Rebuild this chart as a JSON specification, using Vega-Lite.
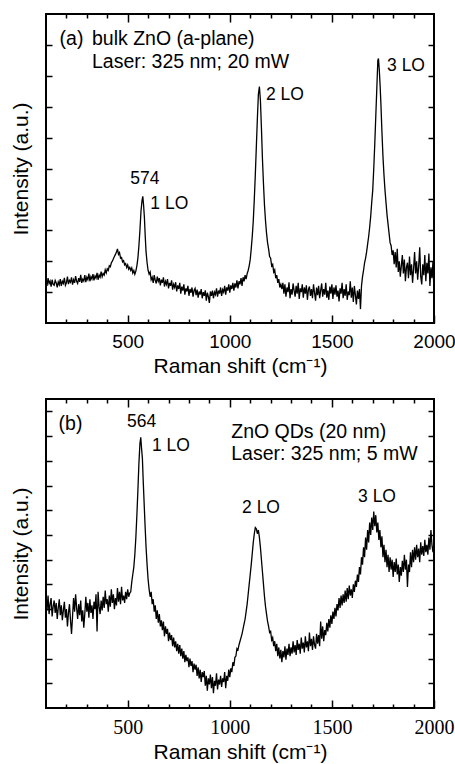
{
  "$schema": "https://vega.github.io/schema/vega-lite/v6.json",
  "padding": {"left": 9, "top": 12, "right": 2, "bottom": 4},
  "spacing": 20,
  "config": {
    "view": {"stroke": "black", "strokeWidth": 2},
    "axis": {"domain": false, "grid": false, "ticks": true, "tickColor": "black", "tickWidth": 1.5,
      "labelFont": "Liberation Sans", "labelFontSize": 19, "labelColor": "black",
      "titleFont": "Liberation Sans", "titleFontSize": 21, "titleFontWeight": "normal", "titleColor": "black"},
    "text": {"font": "Liberation Sans", "color": "black"}
  },
  "datasets": {
    "specA": [
      {"x":100,"y":1.32},{"x":105,"y":1.20},{"x":110,"y":1.45},{"x":115,"y":1.28},{"x":120,"y":1.36},{"x":125,"y":1.18},{"x":130,"y":1.40},{"x":135,"y":1.25},{"x":140,"y":1.22},{"x":145,"y":1.38},
      {"x":150,"y":1.30},{"x":155,"y":1.15},{"x":160,"y":1.33},{"x":165,"y":1.24},{"x":170,"y":1.42},{"x":175,"y":1.20},{"x":180,"y":1.35},{"x":185,"y":1.28},{"x":190,"y":1.46},{"x":195,"y":1.22},
      {"x":200,"y":1.30},{"x":205,"y":1.50},{"x":210,"y":1.26},{"x":215,"y":1.38},{"x":220,"y":1.32},{"x":225,"y":1.48},{"x":230,"y":1.24},{"x":235,"y":1.40},{"x":240,"y":1.30},{"x":245,"y":1.52},
      {"x":250,"y":1.35},{"x":255,"y":1.28},{"x":260,"y":1.45},{"x":265,"y":1.33},{"x":270,"y":1.56},{"x":275,"y":1.30},{"x":280,"y":1.42},{"x":285,"y":1.36},{"x":290,"y":1.55},{"x":295,"y":1.32},
      {"x":300,"y":1.48},{"x":305,"y":1.40},{"x":310,"y":1.60},{"x":315,"y":1.35},{"x":320,"y":1.50},{"x":325,"y":1.42},{"x":330,"y":1.58},{"x":335,"y":1.38},{"x":340,"y":1.52},{"x":345,"y":1.45},
      {"x":350,"y":1.62},{"x":355,"y":1.40},{"x":360,"y":1.55},{"x":365,"y":1.48},{"x":370,"y":1.66},{"x":375,"y":1.50},{"x":380,"y":1.60},{"x":385,"y":1.55},{"x":390,"y":1.72},{"x":395,"y":1.62},
      {"x":400,"y":1.75},{"x":405,"y":1.70},{"x":410,"y":1.85},{"x":415,"y":1.82},{"x":420,"y":1.95},{"x":425,"y":2.00},{"x":430,"y":2.08},{"x":435,"y":2.15},{"x":440,"y":2.22},{"x":445,"y":2.30},
      {"x":450,"y":2.40},{"x":455,"y":2.22},{"x":460,"y":2.28},{"x":465,"y":2.10},{"x":470,"y":2.12},{"x":475,"y":1.98},{"x":480,"y":2.02},{"x":485,"y":1.88},{"x":490,"y":1.92},{"x":495,"y":1.80},
      {"x":500,"y":1.88},{"x":505,"y":1.74},{"x":510,"y":1.80},{"x":515,"y":1.70},{"x":520,"y":1.78},{"x":525,"y":1.62},{"x":530,"y":1.70},{"x":535,"y":1.58},{"x":540,"y":1.68},{"x":545,"y":1.85},
      {"x":550,"y":2.10},{"x":555,"y":2.50},{"x":560,"y":3.00},{"x":565,"y":3.60},{"x":570,"y":3.95},{"x":574,"y":4.10},{"x":578,"y":3.80},{"x":582,"y":3.40},{"x":586,"y":2.80},{"x":590,"y":2.30},
      {"x":595,"y":1.95},{"x":600,"y":1.70},{"x":605,"y":1.58},{"x":610,"y":1.65},{"x":615,"y":1.40},
      {"x":620,"y":1.48},{"x":625,"y":1.30},{"x":630,"y":1.55},{"x":635,"y":1.38},{"x":640,"y":1.28},{"x":645,"y":1.50},{"x":650,"y":1.35},{"x":655,"y":1.45},{"x":660,"y":1.22},{"x":665,"y":1.40},
      {"x":670,"y":1.30},{"x":675,"y":1.48},{"x":680,"y":1.18},{"x":685,"y":1.35},{"x":690,"y":1.25},{"x":695,"y":1.42},{"x":700,"y":1.12},{"x":705,"y":1.30},{"x":710,"y":1.20},{"x":715,"y":1.38},
      {"x":720,"y":1.08},{"x":725,"y":1.25},{"x":730,"y":1.15},{"x":735,"y":1.32},{"x":740,"y":1.02},{"x":745,"y":1.22},{"x":750,"y":1.10},{"x":755,"y":1.30},{"x":760,"y":0.95},{"x":765,"y":1.18},
      {"x":770,"y":1.05},{"x":775,"y":1.25},{"x":780,"y":0.92},{"x":785,"y":1.12},{"x":790,"y":1.02},{"x":795,"y":1.20},{"x":800,"y":0.88},{"x":805,"y":1.10},{"x":810,"y":0.98},{"x":815,"y":1.15},
      {"x":820,"y":0.85},{"x":825,"y":1.05},{"x":830,"y":1.12},{"x":835,"y":0.90},{"x":840,"y":1.08},{"x":845,"y":0.82},{"x":850,"y":1.02},{"x":855,"y":0.92},{"x":860,"y":1.10},{"x":865,"y":0.80},
      {"x":870,"y":1.00},{"x":875,"y":0.88},{"x":880,"y":1.06},{"x":885,"y":0.72},{"x":890,"y":0.98},{"x":895,"y":0.85},{"x":900,"y":0.65},{"x":905,"y":1.02},{"x":910,"y":0.88},{"x":915,"y":1.05},
      {"x":920,"y":0.80},{"x":925,"y":1.00},{"x":930,"y":0.92},{"x":935,"y":1.12},{"x":940,"y":0.85},{"x":945,"y":1.05},{"x":950,"y":0.95},{"x":955,"y":1.15},{"x":960,"y":0.88},{"x":965,"y":1.08},
      {"x":970,"y":1.00},{"x":975,"y":1.20},{"x":980,"y":0.92},{"x":985,"y":1.15},{"x":990,"y":1.05},{"x":995,"y":1.25},{"x":1000,"y":0.98},{"x":1005,"y":1.22},{"x":1010,"y":1.10},{"x":1015,"y":1.30},
      {"x":1020,"y":1.05},{"x":1025,"y":1.28},{"x":1030,"y":1.15},{"x":1035,"y":1.38},{"x":1040,"y":1.12},{"x":1045,"y":1.35},{"x":1050,"y":1.25},{"x":1055,"y":1.45},{"x":1060,"y":1.20},{"x":1065,"y":1.48},
      {"x":1070,"y":1.35},{"x":1075,"y":1.55},{"x":1080,"y":1.42},{"x":1085,"y":1.60},{"x":1090,"y":1.70},{"x":1095,"y":1.85},{"x":1100,"y":2.05},{"x":1105,"y":2.40},{"x":1110,"y":2.80},{"x":1115,"y":3.30},
      {"x":1120,"y":4.00},{"x":1125,"y":4.80},{"x":1130,"y":5.70},{"x":1135,"y":6.60},{"x":1140,"y":7.40},{"x":1145,"y":7.65},{"x":1150,"y":7.20},{"x":1155,"y":6.30},{"x":1160,"y":5.30},{"x":1165,"y":4.50},
      {"x":1170,"y":3.80},{"x":1175,"y":3.30},{"x":1180,"y":2.90},{"x":1185,"y":2.60},{"x":1190,"y":2.40},{"x":1195,"y":2.15},{"x":1200,"y":2.10},{"x":1205,"y":1.85},{"x":1210,"y":1.90},{"x":1215,"y":1.65},
      {"x":1220,"y":1.72},{"x":1225,"y":1.45},{"x":1230,"y":1.55},{"x":1235,"y":1.30},{"x":1240,"y":1.42},{"x":1245,"y":1.15},{"x":1250,"y":1.25},{"x":1255,"y":1.10},{"x":1260,"y":1.30},{"x":1265,"y":0.95},
      {"x":1270,"y":1.25},{"x":1275,"y":0.85},{"x":1280,"y":1.15},{"x":1285,"y":1.00},{"x":1290,"y":1.32},{"x":1295,"y":0.80},{"x":1300,"y":1.10},{"x":1305,"y":0.92},{"x":1310,"y":1.28},{"x":1315,"y":1.05},
      {"x":1320,"y":0.85},{"x":1325,"y":1.20},{"x":1330,"y":0.95},{"x":1335,"y":1.30},{"x":1340,"y":0.78},{"x":1345,"y":1.12},{"x":1350,"y":1.00},{"x":1355,"y":1.25},{"x":1360,"y":0.82},{"x":1365,"y":1.15},
      {"x":1370,"y":0.95},{"x":1375,"y":1.22},{"x":1380,"y":0.75},{"x":1385,"y":1.08},{"x":1390,"y":1.18},{"x":1395,"y":0.88},{"x":1400,"y":1.10},{"x":1405,"y":0.80},{"x":1410,"y":1.25},{"x":1415,"y":0.98},
      {"x":1420,"y":0.72},{"x":1425,"y":1.15},{"x":1430,"y":0.90},{"x":1435,"y":1.20},{"x":1440,"y":0.80},{"x":1445,"y":1.05},{"x":1450,"y":1.28},{"x":1455,"y":0.85},{"x":1460,"y":1.10},{"x":1465,"y":0.92},
      {"x":1470,"y":1.30},{"x":1475,"y":0.82},{"x":1480,"y":1.05},{"x":1485,"y":0.75},{"x":1490,"y":1.18},{"x":1495,"y":0.95},{"x":1500,"y":1.25},{"x":1505,"y":0.78},{"x":1510,"y":1.15},{"x":1515,"y":0.92},
      {"x":1520,"y":1.22},{"x":1525,"y":0.85},{"x":1530,"y":1.05},{"x":1535,"y":0.70},{"x":1540,"y":1.12},{"x":1545,"y":0.95},{"x":1550,"y":1.30},{"x":1555,"y":0.80},{"x":1560,"y":1.10},{"x":1565,"y":0.88},
      {"x":1570,"y":1.25},{"x":1575,"y":0.75},{"x":1580,"y":1.02},{"x":1585,"y":0.90},{"x":1590,"y":1.35},{"x":1595,"y":0.82},{"x":1600,"y":1.15},{"x":1605,"y":0.68},{"x":1610,"y":1.20},{"x":1615,"y":0.90},
      {"x":1620,"y":0.60},{"x":1625,"y":1.05},{"x":1630,"y":0.78},{"x":1635,"y":1.10},{"x":1640,"y":0.45},{"x":1645,"y":1.20},{"x":1650,"y":1.50},{"x":1655,"y":1.70},{"x":1660,"y":1.95},{"x":1665,"y":2.10},
      {"x":1670,"y":2.30},{"x":1675,"y":2.55},{"x":1680,"y":2.80},{"x":1685,"y":3.10},{"x":1690,"y":3.45},{"x":1695,"y":3.90},{"x":1700,"y":4.30},{"x":1705,"y":5.00},{"x":1710,"y":5.80},{"x":1715,"y":6.70},
      {"x":1720,"y":7.60},{"x":1725,"y":8.50},{"x":1728,"y":8.56},{"x":1732,"y":8.20},{"x":1736,"y":7.70},{"x":1740,"y":7.10},{"x":1745,"y":6.20},{"x":1750,"y":5.40},{"x":1755,"y":4.80},{"x":1760,"y":4.30},
      {"x":1765,"y":3.90},{"x":1770,"y":3.50},{"x":1775,"y":3.20},{"x":1780,"y":2.90},{"x":1785,"y":2.60},{"x":1790,"y":2.50},{"x":1795,"y":2.20},{"x":1800,"y":2.35},{"x":1805,"y":1.90},{"x":1810,"y":2.30},
      {"x":1815,"y":1.80},{"x":1820,"y":2.40},{"x":1825,"y":1.65},{"x":1830,"y":2.00},{"x":1835,"y":1.50},{"x":1840,"y":1.85},{"x":1845,"y":2.20},{"x":1850,"y":1.60},{"x":1855,"y":2.05},{"x":1860,"y":1.35},
      {"x":1865,"y":1.80},{"x":1870,"y":1.95},{"x":1875,"y":1.45},{"x":1880,"y":2.15},{"x":1885,"y":1.55},{"x":1890,"y":1.90},{"x":1895,"y":1.30},{"x":1900,"y":1.75},{"x":1905,"y":2.30},{"x":1910,"y":1.60},
      {"x":1915,"y":2.00},{"x":1920,"y":1.40},{"x":1925,"y":1.85},{"x":1930,"y":2.45},{"x":1935,"y":1.50},{"x":1940,"y":1.25},{"x":1945,"y":1.90},{"x":1950,"y":1.55},{"x":1955,"y":2.20},{"x":1960,"y":1.35},
      {"x":1965,"y":1.95},{"x":1970,"y":1.60},{"x":1975,"y":2.25},{"x":1980,"y":1.20},{"x":1985,"y":1.80},{"x":1990,"y":1.45},{"x":1995,"y":2.00},{"x":2000,"y":0.95}
    ],
    "specB": [
      {"x":100,"y":4.40},{"x":105,"y":3.95},{"x":110,"y":4.55},{"x":115,"y":3.80},{"x":120,"y":4.20},{"x":125,"y":4.45},{"x":130,"y":3.70},{"x":135,"y":4.10},{"x":140,"y":4.35},{"x":145,"y":3.85},
      {"x":150,"y":4.25},{"x":155,"y":3.60},{"x":160,"y":4.05},{"x":165,"y":4.40},{"x":170,"y":3.75},{"x":175,"y":4.15},{"x":180,"y":3.55},{"x":185,"y":3.95},{"x":190,"y":4.30},{"x":195,"y":3.65},
      {"x":200,"y":4.00},{"x":205,"y":3.30},{"x":210,"y":3.85},{"x":215,"y":4.20},{"x":220,"y":3.55},{"x":225,"y":3.00},{"x":230,"y":3.70},{"x":235,"y":4.45},{"x":240,"y":3.90},{"x":245,"y":4.60},
      {"x":250,"y":4.05},{"x":255,"y":3.60},{"x":260,"y":4.20},{"x":265,"y":3.75},{"x":270,"y":4.35},{"x":275,"y":3.50},{"x":280,"y":3.95},{"x":285,"y":3.25},{"x":290,"y":3.80},{"x":295,"y":4.50},
      {"x":300,"y":3.90},{"x":305,"y":4.25},{"x":310,"y":3.65},{"x":315,"y":4.40},{"x":320,"y":3.85},{"x":325,"y":4.15},{"x":330,"y":3.60},{"x":335,"y":4.30},{"x":340,"y":4.00},{"x":345,"y":4.60},
      {"x":350,"y":3.10},{"x":355,"y":4.70},{"x":360,"y":4.10},{"x":365,"y":3.80},{"x":370,"y":4.35},{"x":375,"y":3.95},{"x":380,"y":4.50},{"x":385,"y":4.05},{"x":390,"y":4.75},{"x":395,"y":4.20},
      {"x":400,"y":4.40},{"x":405,"y":3.90},{"x":410,"y":4.55},{"x":415,"y":4.10},{"x":420,"y":4.80},{"x":425,"y":4.25},{"x":430,"y":4.60},{"x":435,"y":4.00},{"x":440,"y":4.45},{"x":445,"y":4.15},
      {"x":450,"y":4.85},{"x":455,"y":4.30},{"x":460,"y":4.70},{"x":465,"y":4.20},{"x":470,"y":4.90},{"x":475,"y":4.35},{"x":480,"y":4.55},{"x":485,"y":4.25},{"x":490,"y":4.70},{"x":495,"y":4.40},
      {"x":500,"y":4.80},{"x":505,"y":4.50},{"x":510,"y":4.65},{"x":515,"y":4.70},{"x":520,"y":5.10},{"x":525,"y":5.40},{"x":530,"y":5.70},{"x":535,"y":6.20},{"x":540,"y":6.90},{"x":545,"y":7.80},
      {"x":550,"y":8.80},{"x":555,"y":9.90},{"x":560,"y":10.70},{"x":564,"y":10.95},{"x":568,"y":10.50},{"x":572,"y":10.10},{"x":576,"y":9.20},{"x":580,"y":8.40},{"x":585,"y":7.40},{"x":590,"y":6.50},
      {"x":595,"y":5.80},{"x":600,"y":5.20},{"x":605,"y":4.80},{"x":610,"y":4.50},{"x":615,"y":4.70},{"x":620,"y":4.20},{"x":625,"y":4.40},{"x":630,"y":3.90},{"x":635,"y":4.15},{"x":640,"y":3.60},
      {"x":645,"y":3.95},{"x":650,"y":3.45},{"x":655,"y":3.80},{"x":660,"y":3.30},{"x":665,"y":3.55},{"x":670,"y":3.15},{"x":675,"y":3.50},{"x":680,"y":2.90},{"x":685,"y":3.30},{"x":690,"y":3.00},
      {"x":695,"y":3.20},{"x":700,"y":2.70},{"x":705,"y":3.05},{"x":710,"y":2.75},{"x":715,"y":2.95},{"x":720,"y":2.50},{"x":725,"y":2.85},{"x":730,"y":2.45},{"x":735,"y":2.70},{"x":740,"y":2.30},
      {"x":745,"y":2.60},{"x":750,"y":2.20},{"x":755,"y":2.55},{"x":760,"y":2.10},{"x":765,"y":2.40},{"x":770,"y":2.00},{"x":775,"y":2.30},{"x":780,"y":1.85},{"x":785,"y":2.15},{"x":790,"y":1.90},
      {"x":795,"y":2.05},{"x":800,"y":1.65},{"x":805,"y":2.00},{"x":810,"y":1.70},{"x":815,"y":1.90},{"x":820,"y":1.45},{"x":825,"y":1.80},{"x":830,"y":1.55},{"x":835,"y":1.75},{"x":840,"y":1.30},
      {"x":845,"y":1.65},{"x":850,"y":1.20},{"x":855,"y":1.55},{"x":860,"y":1.05},{"x":865,"y":1.45},{"x":870,"y":1.25},{"x":875,"y":1.50},{"x":880,"y":0.90},{"x":885,"y":1.30},{"x":890,"y":0.70},
      {"x":895,"y":1.20},{"x":900,"y":0.95},{"x":905,"y":1.35},{"x":910,"y":0.80},{"x":915,"y":1.25},{"x":920,"y":0.60},{"x":925,"y":1.10},{"x":930,"y":0.90},{"x":935,"y":1.40},{"x":940,"y":0.75},
      {"x":945,"y":1.15},{"x":950,"y":0.95},{"x":955,"y":1.30},{"x":960,"y":0.85},{"x":965,"y":1.20},{"x":970,"y":1.05},{"x":975,"y":1.45},{"x":980,"y":0.80},{"x":985,"y":1.30},{"x":990,"y":1.10},
      {"x":995,"y":1.55},{"x":1000,"y":1.25},{"x":1005,"y":1.60},{"x":1010,"y":1.45},{"x":1015,"y":1.85},{"x":1020,"y":1.70},{"x":1025,"y":2.05},{"x":1030,"y":2.10},{"x":1035,"y":2.40},{"x":1040,"y":2.35},
      {"x":1045,"y":2.55},{"x":1050,"y":2.70},{"x":1055,"y":2.85},{"x":1060,"y":3.00},{"x":1065,"y":3.20},{"x":1070,"y":3.40},{"x":1075,"y":3.60},{"x":1080,"y":3.90},{"x":1085,"y":4.20},{"x":1090,"y":4.60},
      {"x":1095,"y":5.00},{"x":1100,"y":5.40},{"x":1105,"y":5.80},{"x":1110,"y":6.25},{"x":1115,"y":6.70},{"x":1120,"y":7.05},{"x":1125,"y":7.30},{"x":1130,"y":7.25},{"x":1135,"y":7.05},{"x":1140,"y":7.20},
      {"x":1145,"y":6.90},{"x":1150,"y":6.50},{"x":1155,"y":6.00},{"x":1160,"y":5.50},{"x":1165,"y":5.00},{"x":1170,"y":4.50},{"x":1175,"y":4.10},{"x":1180,"y":3.80},{"x":1185,"y":3.50},{"x":1190,"y":3.30},
      {"x":1195,"y":3.05},{"x":1200,"y":3.10},{"x":1205,"y":2.75},{"x":1210,"y":2.85},{"x":1215,"y":2.50},{"x":1220,"y":2.70},{"x":1225,"y":2.30},{"x":1230,"y":2.60},{"x":1235,"y":2.10},{"x":1240,"y":2.45},
      {"x":1245,"y":2.00},{"x":1250,"y":2.35},{"x":1255,"y":1.85},{"x":1260,"y":2.30},{"x":1265,"y":2.05},{"x":1270,"y":2.50},{"x":1275,"y":1.95},{"x":1280,"y":2.40},{"x":1285,"y":2.15},{"x":1290,"y":2.60},
      {"x":1295,"y":2.10},{"x":1300,"y":2.45},{"x":1305,"y":2.20},{"x":1310,"y":2.70},{"x":1315,"y":2.25},{"x":1320,"y":2.55},{"x":1325,"y":2.15},{"x":1330,"y":2.75},{"x":1335,"y":2.35},{"x":1340,"y":2.60},
      {"x":1345,"y":2.20},{"x":1350,"y":2.85},{"x":1355,"y":2.40},{"x":1360,"y":2.65},{"x":1365,"y":2.25},{"x":1370,"y":2.90},{"x":1375,"y":2.45},{"x":1380,"y":2.70},{"x":1385,"y":2.30},{"x":1390,"y":3.05},
      {"x":1395,"y":2.50},{"x":1400,"y":2.80},{"x":1405,"y":2.35},{"x":1410,"y":2.90},{"x":1415,"y":2.55},{"x":1420,"y":2.40},{"x":1425,"y":3.00},{"x":1430,"y":2.60},{"x":1435,"y":2.95},{"x":1440,"y":2.50},
      {"x":1445,"y":3.50},{"x":1450,"y":2.80},{"x":1455,"y":3.30},{"x":1460,"y":2.70},{"x":1465,"y":3.15},{"x":1470,"y":2.95},{"x":1475,"y":3.45},{"x":1480,"y":3.10},{"x":1485,"y":3.60},{"x":1490,"y":3.25},
      {"x":1495,"y":3.75},{"x":1500,"y":3.40},{"x":1505,"y":3.90},{"x":1510,"y":3.60},{"x":1515,"y":4.05},{"x":1520,"y":3.70},{"x":1525,"y":4.20},{"x":1530,"y":3.95},{"x":1535,"y":4.45},{"x":1540,"y":4.05},
      {"x":1545,"y":4.55},{"x":1550,"y":4.15},{"x":1555,"y":4.60},{"x":1560,"y":4.25},{"x":1565,"y":4.75},{"x":1570,"y":4.30},{"x":1575,"y":4.85},{"x":1580,"y":4.40},{"x":1585,"y":4.95},{"x":1590,"y":4.55},
      {"x":1595,"y":4.80},{"x":1600,"y":4.45},{"x":1605,"y":5.00},{"x":1610,"y":4.70},{"x":1615,"y":5.15},{"x":1620,"y":4.90},{"x":1625,"y":5.40},{"x":1630,"y":5.10},{"x":1635,"y":5.70},{"x":1640,"y":5.40},
      {"x":1645,"y":6.10},{"x":1650,"y":5.80},{"x":1655,"y":6.50},{"x":1660,"y":6.10},{"x":1665,"y":6.90},{"x":1670,"y":6.40},{"x":1675,"y":7.20},{"x":1680,"y":6.70},{"x":1685,"y":7.50},{"x":1690,"y":7.00},
      {"x":1695,"y":7.70},{"x":1700,"y":7.20},{"x":1705,"y":7.95},{"x":1710,"y":7.35},{"x":1715,"y":7.80},{"x":1720,"y":7.10},{"x":1725,"y":7.50},{"x":1730,"y":6.80},{"x":1735,"y":7.20},{"x":1740,"y":6.50},
      {"x":1745,"y":6.95},{"x":1750,"y":6.10},{"x":1755,"y":6.60},{"x":1760,"y":5.90},{"x":1765,"y":6.40},{"x":1770,"y":5.70},{"x":1775,"y":6.20},{"x":1780,"y":5.50},{"x":1785,"y":6.10},{"x":1790,"y":5.60},
      {"x":1795,"y":6.00},{"x":1800,"y":5.30},{"x":1805,"y":5.90},{"x":1810,"y":5.50},{"x":1815,"y":6.05},{"x":1820,"y":5.40},{"x":1825,"y":5.80},{"x":1830,"y":5.10},{"x":1835,"y":5.70},{"x":1840,"y":5.35},
      {"x":1845,"y":5.95},{"x":1850,"y":5.50},{"x":1855,"y":6.20},{"x":1860,"y":5.60},{"x":1865,"y":6.00},{"x":1870,"y":4.90},{"x":1875,"y":5.80},{"x":1880,"y":5.50},{"x":1885,"y":6.30},{"x":1890,"y":5.70},
      {"x":1895,"y":6.40},{"x":1900,"y":5.90},{"x":1905,"y":6.50},{"x":1910,"y":6.00},{"x":1915,"y":6.60},{"x":1920,"y":6.10},{"x":1925,"y":6.45},{"x":1930,"y":5.90},{"x":1935,"y":6.70},{"x":1940,"y":6.20},
      {"x":1945,"y":6.55},{"x":1950,"y":6.15},{"x":1955,"y":6.80},{"x":1960,"y":6.30},{"x":1965,"y":6.60},{"x":1970,"y":6.20},{"x":1975,"y":6.90},{"x":1980,"y":6.40},{"x":1985,"y":7.20},{"x":1990,"y":6.60},
      {"x":1995,"y":6.30},{"x":2000,"y":6.70}
    ],
    "bigA": [
      {"x":166.6,"y":9.20,"label":"(a)"},
      {"x":325,"y":9.20,"label":"bulk ZnO (a-plane)"},
      {"x":325,"y":8.45,"label":"Laser: 325 nm; 20 mW"}
    ],
    "smallA": [
      {"x":513,"y":4.66,"label":"574"},
      {"x":611,"y":3.84,"label":"1 LO"},
      {"x":1177,"y":7.38,"label":"2 LO"},
      {"x":1770,"y":8.32,"label":"3 LO"}
    ],
    "bigB": [
      {"x":161.7,"y":11.50,"label":"(b)"},
      {"x":1007,"y":11.15,"label":"ZnO QDs (20 nm)"},
      {"x":1007,"y":10.26,"label":"Laser: 325 nm; 5 mW"}
    ],
    "smallB": [
      {"x":496.7,"y":11.55,"label":"564"},
      {"x":619,"y":10.60,"label":"1 LO"},
      {"x":1060,"y":8.10,"label":"2 LO"},
      {"x":1628,"y":8.55,"label":"3 LO"}
    ]
  },
  "vconcat": [
    {
      "width": 388,
      "height": 309,
      "layer": [
        {
          "data": {"name": "specA"},
          "mark": {"type": "line", "color": "black", "strokeWidth": 1.3},
          "encoding": {
            "x": {"field": "x", "type": "quantitative", "scale": {"domain": [100, 2000], "nice": false, "zero": false},
              "axis": {"orient": "bottom", "values": [200,300,400,500,600,700,800,900,1000,1100,1200,1300,1400,1500,1600,1700,1800,1900,2000],
                "tickSize": {"condition": {"test": "datum.value % 500 === 0", "value": -8}, "value": -4},
                "format": "d", "labelExpr": "datum.value % 500 === 0 ? datum.label : ''", "labelPadding": 17, "labelFlush": false,
                "title": "Raman shift (cm⁻¹)", "titlePadding": 4}},
            "y": {"field": "y", "type": "quantitative", "scale": {"domain": [0, 10], "nice": false, "zero": false},
              "axis": {"orient": "left", "values": [1,2,3,4,5,6,7,8,9], "tickSize": -6, "labels": false,
                "title": "Intensity (a.u.)", "titlePadding": 14}}
          }
        },
        {
          "data": {"name": "bigA"},
          "mark": {"type": "text", "align": "left", "baseline": "middle", "fontSize": 19.5},
          "encoding": {
            "x": {"field": "x", "type": "quantitative", "scale": {"domain": [100, 2000], "nice": false, "zero": false},
              "axis": {"orient": "top", "values": [200,300,400,500,600,700,800,900,1000,1100,1200,1300,1400,1500,1600,1700,1800,1900],
                "tickSize": {"condition": {"test": "datum.value % 500 === 0", "value": -8}, "value": -4},
                "labels": false, "title": null}},
            "y": {"field": "y", "type": "quantitative", "scale": {"domain": [0, 10], "nice": false, "zero": false},
              "axis": {"orient": "right", "values": [1,2,3,4,5,6,7,8,9], "tickSize": -6, "labels": false, "title": null}},
            "text": {"field": "label"}
          }
        },
        {
          "data": {"name": "smallA"},
          "mark": {"type": "text", "align": "left", "baseline": "middle", "fontSize": 17.5},
          "encoding": {
            "x": {"field": "x", "type": "quantitative", "axis": null},
            "y": {"field": "y", "type": "quantitative", "axis": null},
            "text": {"field": "label"}
          }
        }
      ],
      "resolve": {"axis": {"x": "independent", "y": "independent"}}
    },
    {
      "width": 388,
      "height": 309,
      "layer": [
        {
          "data": {"name": "specB"},
          "mark": {"type": "line", "color": "black", "strokeWidth": 1.3},
          "encoding": {
            "x": {"field": "x", "type": "quantitative", "scale": {"domain": [100, 2000], "nice": false, "zero": false},
              "axis": {"orient": "bottom", "values": [200,300,400,500,600,700,800,900,1000,1100,1200,1300,1400,1500,1600,1700,1800,1900,2000],
                "tickSize": {"condition": {"test": "datum.value % 500 === 0", "value": -8}, "value": -4},
                "format": "d", "labelExpr": "datum.value % 500 === 0 ? datum.label : ''", "labelPadding": 17, "labelFlush": false,
                "labelFont": "Liberation Serif", "labelFontSize": 20,
                "title": "Raman shift (cm⁻¹)", "titlePadding": 4}},
            "y": {"field": "y", "type": "quantitative", "scale": {"domain": [0, 12.5], "nice": false, "zero": false},
              "axis": {"orient": "left", "values": [1,2,3,4,5,6,7,8,9,10,11,12], "tickSize": -6, "labels": false,
                "title": "Intensity (a.u.)", "titlePadding": 14}}
          }
        },
        {
          "data": {"name": "bigB"},
          "mark": {"type": "text", "align": "left", "baseline": "middle", "fontSize": 19.5},
          "encoding": {
            "x": {"field": "x", "type": "quantitative", "scale": {"domain": [100, 2000], "nice": false, "zero": false},
              "axis": {"orient": "top", "values": [200,300,400,500,600,700,800,900,1000,1100,1200,1300,1400,1500,1600,1700,1800,1900],
                "tickSize": {"condition": {"test": "datum.value % 500 === 0", "value": -8}, "value": -4},
                "labels": false, "title": null}},
            "y": {"field": "y", "type": "quantitative", "scale": {"domain": [0, 12.5], "nice": false, "zero": false},
              "axis": {"orient": "right", "values": [1,2,3,4,5,6,7,8,9,10,11,12], "tickSize": -6, "labels": false, "title": null}},
            "text": {"field": "label"}
          }
        },
        {
          "data": {"name": "smallB"},
          "mark": {"type": "text", "align": "left", "baseline": "middle", "fontSize": 17.5},
          "encoding": {
            "x": {"field": "x", "type": "quantitative", "axis": null},
            "y": {"field": "y", "type": "quantitative", "axis": null},
            "text": {"field": "label"}
          }
        }
      ],
      "resolve": {"axis": {"x": "independent", "y": "independent"}}
    }
  ]
}
